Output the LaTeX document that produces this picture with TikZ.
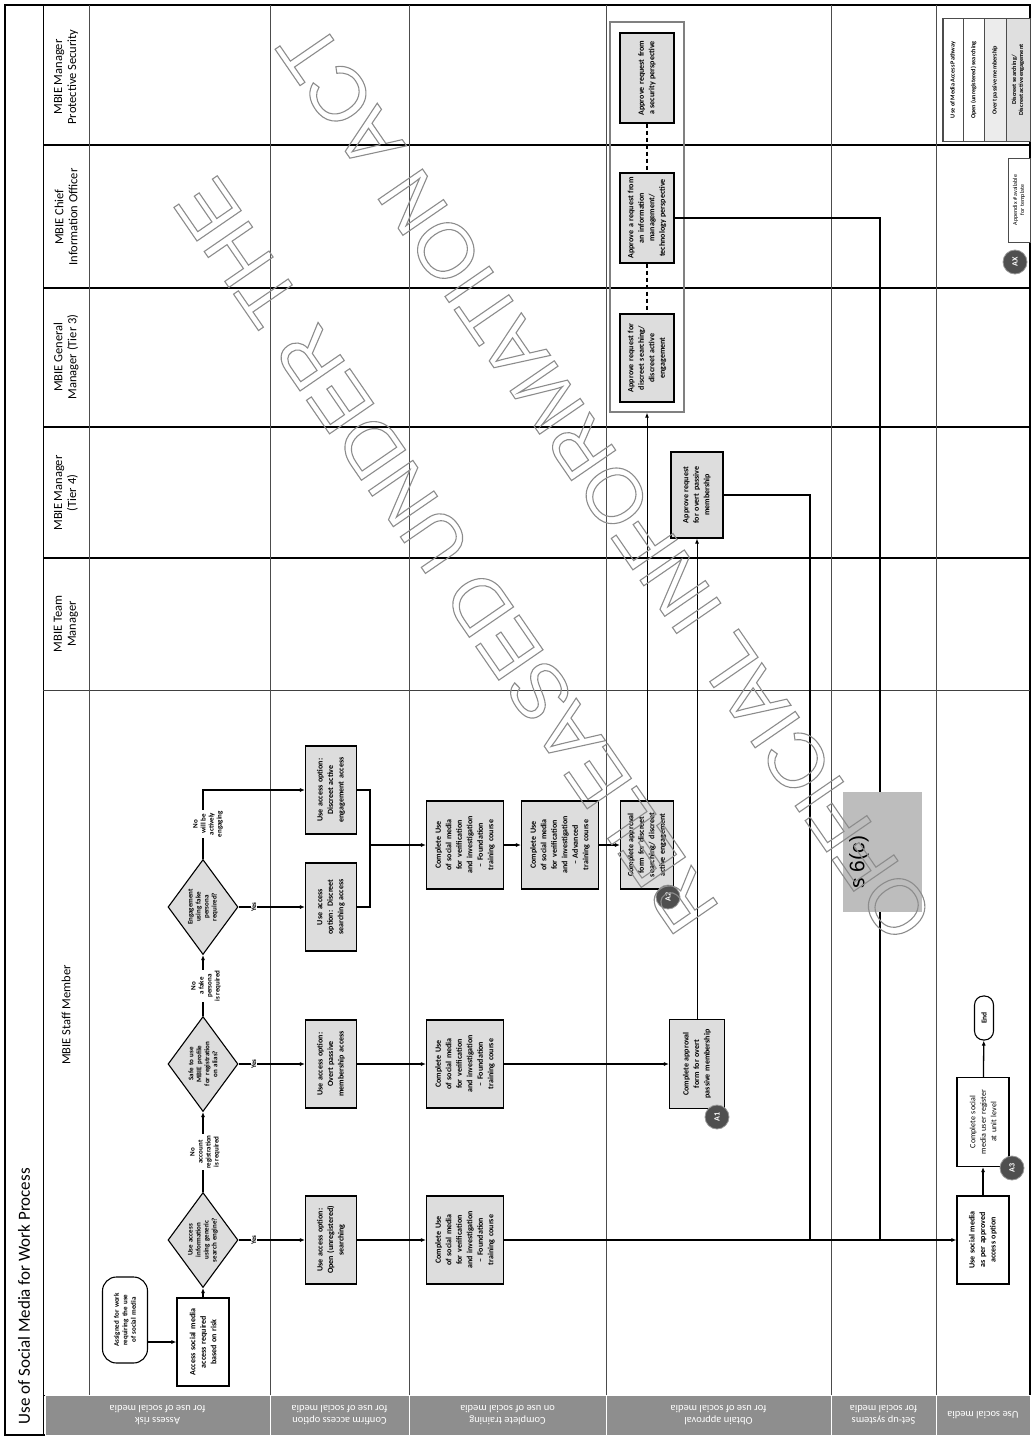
\documentclass[tikz,border=0pt]{standalone}
\usepackage{fontspec}
\setmainfont{Carlito}
\newfontfamily\wmfont{Liberation Sans}
\usetikzlibrary{shapes.geometric,arrows.meta}
\definecolor{boxfill}{HTML}{DDDDDD}
\definecolor{phgray}{HTML}{8E8E8E}
\definecolor{badgec}{HTML}{4F4F4F}
\definecolor{redact}{HTML}{BDBDBD}
\newcommand\wmoutline[1]{\special{pdf:literal direct 1 Tr 1.1 w}#1\special{pdf:literal direct 0 Tr}}
\begin{document}
\hyphenpenalty=10000 \exhyphenpenalty=10000
\begin{tikzpicture}[x=1pt,y=-1pt,
  >={Latex[length=5pt,width=4pt]},
  sz/.style n args={3}{minimum width=#1pt, minimum height=#2pt, text width=#3pt},
  bx/.style={draw, line width=1.1pt, fill=boxfill, rotate=90, align=center, inner sep=1.5pt,
             font=\bfseries\fontsize{8}{10.5}\selectfont},
  oval/.style={draw, line width=1.1pt, fill=white, rotate=90, align=center, inner sep=1pt,
             rounded corners=14pt, font=\bfseries\fontsize{7}{8.5}\selectfont},
  dia/.style={diamond, aspect=1.35, draw, line width=1.1pt, fill=boxfill, rotate=90, align=center,
             inner sep=0pt, text width=46pt, minimum width=95pt, minimum height=70pt,
             font=\bfseries\fontsize{7}{8}\selectfont},
  lbl/.style={rotate=90, fill=white, align=center, inner sep=1pt, font=\bfseries\fontsize{7}{8}\selectfont},
  hdr/.style={rotate=90, align=center, font=\fontsize{12.5}{14}\selectfont},
  ph/.style={draw=white, line width=0.8pt, fill=phgray, text=white, rotate=180, align=center,
             minimum height=40pt, inner sep=0pt, font=\fontsize{10.5}{12.5}\selectfont},
  badge/.style={circle, fill=badgec, draw=black!40, line width=0.8pt, text=white, rotate=90,
             inner sep=0pt, minimum size=24pt, font=\bfseries\fontsize{8}{8}\selectfont},
  lg/.style={draw=black!70, line width=0.8pt, rotate=90, minimum width=123pt, inner sep=0pt,
             align=center, font=\bfseries\fontsize{6.2}{7}\selectfont},
  con/.style={line width=1.3pt},
  heavy/.style={line width=2pt},
  wm/.style={rotate=124.5, text=black!45, font=\wmfont\fontsize{78}{78}\selectfont, inner sep=0pt}
]
\useasboundingbox (0,0) rectangle (1034,1440);

% ---------- grid ----------
\draw[line width=1.4pt] (5,5) rectangle (1030,1435);
\draw[line width=1pt] (43,5) -- (43,1435);
\foreach \yy in {145,288,427,558} \draw[line width=1.8pt] (43,\yy) -- (1030,\yy);
\draw[line width=0.8pt, black!75] (43,690) -- (1030,690);
\foreach \xx in {89,270,409,606,831,936} \draw[line width=0.7pt, black!70] (\xx,5) -- (\xx,1395);
\draw[line width=1pt] (43,1395) -- (1030,1395);

% ---------- title, headers, phases ----------
\node[rotate=90, anchor=west, font=\fontsize{17}{17}\selectfont] (title) at (24,1428) {Use of Social Media for Work Process};
\node[hdr] (hPS) at (66,77) {MBIE Manager\\Protective Security};
\node[hdr] (hCIO) at (66,217) {MBIE Chief\\Information Officer};
\node[hdr] (hGM) at (66,357) {MBIE General\\Manager (Tier 3)};
\node[hdr] (hT4) at (66,493) {MBIE Manager\\(Tier 4)};
\node[hdr] (hTM) at (66,624) {MBIE Team\\Manager};
\node[hdr] (hSM) at (66,1015) {MBIE Staff Member};

\node[ph, minimum width=225pt] (p1) at (157.5,1415) {Assess risk\\for use of social media};
\node[ph, minimum width=139pt] (p2) at (339.5,1415) {Confirm access option\\for use of social media};
\node[ph, minimum width=197pt] (p3) at (507.5,1415) {Complete training\\on use of social media};
\node[ph, minimum width=225pt] (p4) at (718.5,1415) {Obtain approval\\for use of social media};
\node[ph, minimum width=105pt] (p5) at (883.5,1415) {Set-up systems\\for social media};
\node[ph, minimum width=94pt] (p6) at (983,1415) {Use social media};

% ---------- staff member flow ----------
\node[oval, sz={86}{45}{56}] (start) at (125,1320) {Assigned for work requiring the use of social media};
\node[bx, fill=white, sz={88}{52}{78}] (access) at (203,1342) {Access social media access required based on risk};
\node[dia] (D1) at (203,1240) {Use access information using generic search engine?};
\node[dia] (D2) at (203,1064) {Safe to use MBIE profile for registration on alias?};
\node[dia] (D3) at (203,907) {Engagement using fake persona required?};

\node[bx, sz={88}{51}{80}] (O1) at (331,1240) {Use access option: Open (unregistered) searching};
\node[bx, sz={88}{51}{80}] (O2) at (331,1064) {Use access option: Overt passive membership access};
\node[bx, sz={88}{51}{80}] (O3) at (331,907) {Use access option: Discreet searching access};
\node[bx, sz={88}{51}{80}] (O4) at (331,790) {Use access option: Discreet active engagement access};
\coordinate (m) at (370,845);

\node[bx, sz={88}{77}{76}] (T1) at (465,1240) {Complete Use of social media for verification and investigation -- Foundation training course};
\node[bx, sz={88}{77}{76}] (T2) at (465,1064) {Complete Use of social media for verification and investigation -- Foundation training course};
\node[bx, sz={88}{77}{76}] (T3) at (465,845) {Complete Use of social media for verification and investigation -- Foundation training course};
\node[bx, sz={88}{77}{76}] (T4) at (560,845) {Complete Use of social media for verification and investigation -- Advanced training course};

\node[bx, sz={88}{53}{80}] (AP2) at (647,845) {Complete approval form for discreet searching/ discreet active engagement};
\node[bx, sz={89}{55}{80}] (AP1) at (697,1064) {Complete approval form for overt passive membership};

% ---------- approvers ----------
\node[draw=black!50, line width=1.3pt, minimum width=74pt, minimum height=390pt, inner sep=0pt] (grp) at (647,217) {};
\node[bx, sz={86}{52}{78}] (T4M) at (697,495) {Approve request for overt passive membership};
\node[bx, sz={88}{54}{80}] (GM) at (647,358) {Approve request for discreet searching/ discreet active engagement};
\node[bx, sz={90}{54}{82}] (CIO) at (647,218) {Approve a request from an information management/ technology perspective};
\node[bx, sz={90}{54}{80}] (PS) at (647,78) {Approve request from a security perspective};

% ---------- use social media ----------
\node[bx, fill=white, sz={88}{52}{80}] (US) at (983,1240) {Use social media as per approved access option};
\node[bx, fill=white, font=\fontsize{8}{10.5}\selectfont, sz={89}{52}{78}] (CR) at (983,1122) {Complete social media user register at unit level};
\node[draw, line width=1.1pt, fill=white, rotate=90, rounded corners=9pt, minimum width=44pt, minimum height=19pt,
      inner sep=1pt, font=\bfseries\fontsize{7.5}{8}\selectfont] (End) at (984,1018) {End};

\coordinate (j1) at (810,1240);
\coordinate (j2) at (880,1240);

% ---------- connectors ----------
\draw[con,->] (start.south |- access) -- (access.north);
\draw[con,->] (access) -- (D1);
\draw[con,->] (D1) -- (O1);
\draw[con,->] (D1) -- (D2);
\draw[con,->] (D2) -- (O2);
\draw[con,->] (D2) -- (D3);
\draw[con,->] (D3) -- (O3);
\draw[con,->] (D3) |- (O4);
\draw[con] (O3) -| (m);
\draw[con] (O4) -| (m);
\draw[con,->] (m) -- (T3);
\draw[con,->] (O1) -- (T1);
\draw[con,->] (O2) -- (T2);
\draw[con,->] (T3) -- (T4);
\draw[con,->] (T4) -- (AP2);
\draw[con,->] (T2) -- (AP1);
\draw[line width=1pt,->] (AP1) -- (T4M);
\draw[line width=1pt,->] (AP2) -- (AP2 |- grp.south);
\draw[line width=1.6pt, dash pattern=on 4pt off 3pt] (PS) -- (CIO);
\draw[line width=1.6pt, dash pattern=on 4pt off 3pt] (CIO) -- (GM);
\draw[heavy] (T4M) -| (j1);
\draw[heavy] (CIO) -| (j2);
\draw[heavy,->] (T1) -- (US);
\draw[con,->] (US) -- (CR);
\draw[con,->] (CR) -- (End);

% ---------- connector labels ----------
\node[lbl] (y1) at (254,1240) {Yes};
\node[lbl] (y2) at (254,1064) {Yes};
\node[lbl] (y3) at (254,907) {Yes};
\node[lbl] (n1) at (205,1152) {No\\account\\registration\\is required};
\node[lbl] (n2) at (206,986) {No\\a fake\\persona\\is required};
\node[lbl] (n3) at (208,824) {No\\will be\\actively\\engaging};

% ---------- badges ----------
\node[badge] (A1) at (717,1117) {A1};
\node[badge] (A2) at (668,897) {A2};
\node[badge] (A3) at (1012,1168) {A3};

% ---------- legend ----------
\node[lg, minimum height=20pt, fill=white] (L1) at (953,80) {Use of Media Access Pathway};
\node[lg, minimum height=21pt, fill=white] (L2) at (973.5,80) {Open (unregistered) searching};
\node[lg, minimum height=22pt, fill=gray!15] (L3) at (995,80) {Overt passive membership};
\node[lg, minimum height=24pt, fill=gray!25] (L4) at (1018,80) {Discreet searching/\\Discreet active engagement};
\draw[line width=1pt, black!70] (L1.north west) rectangle (L4.south east);
\node[lg, minimum width=84pt, minimum height=22pt, fill=white, font=\fontsize{6}{7}\selectfont] (LX) at (1019,200) {Appendix \# available\\for template};
\node[badge] (AX) at (1015,262) {AX};

% ---------- redaction ----------
\node[fill=redact, minimum width=79pt, minimum height=120pt, inner sep=0pt] (red) at (882.5,852) {};
\node[rotate=90, anchor=west, font=\wmfont\fontsize{21}{21}\selectfont] (s6c) at (859,892) {s 6(c)};

% ---------- watermark ----------
\node[wm] (wm1) at (446,556) {\wmoutline{RELEASED UNDER THE}};
\node[wm] (wm2) at (605,482) {\wmoutline{OFFICIAL INFORMATION ACT}};
\end{tikzpicture}
\end{document}
